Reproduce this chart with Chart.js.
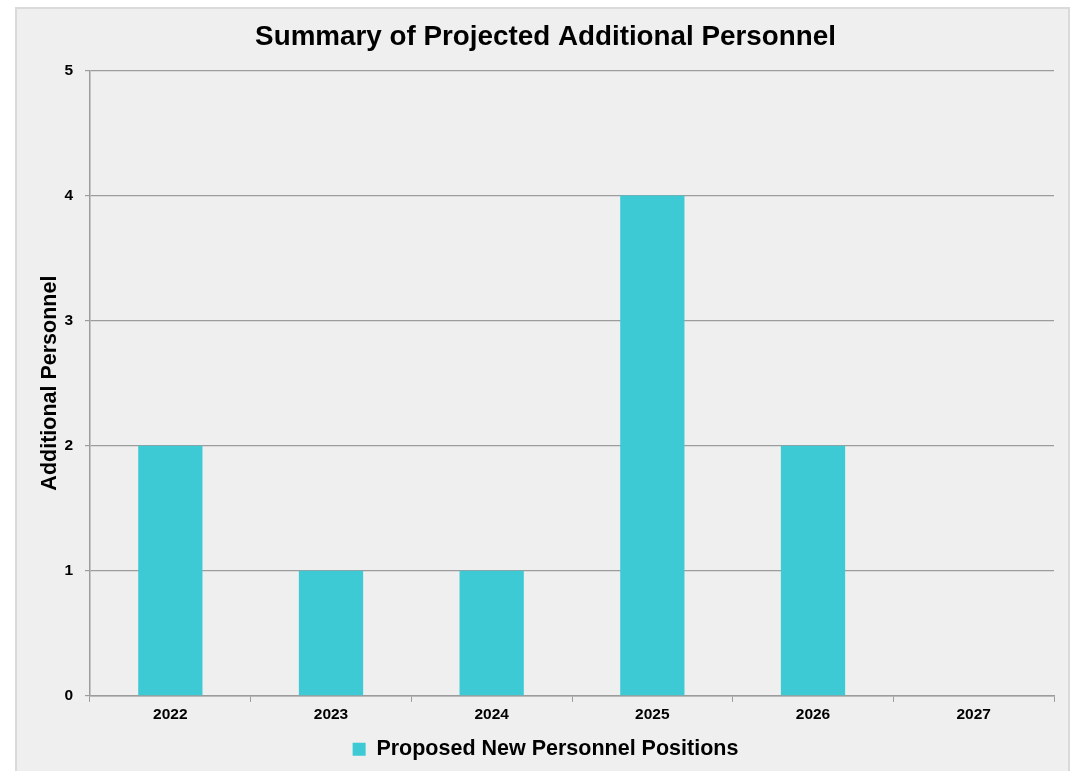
<!DOCTYPE html>
<html>
<head>
<meta charset="utf-8">
<script src="https://cdn.jsdelivr.net/npm/chart.js@4"></script>
<style>
  html, body { margin: 0; padding: 0; background: #ffffff; overflow: hidden; }
  #panel {
    position: absolute; left: 15px; top: 7px;
    width: 1051px; height: 775px;
    background: #efefef; border: 2px solid #dadada;
  }
  #panel canvas { display: block; }
</style>
</head>
<body>
<div id="panel"><canvas id="personnelChart" width="1051" height="775"></canvas></div>
<script>
// anos projetados e vagas novas por ano
const years = ['2022', '2023', '2024', '2025', '2026', '2027'];
const newPositions = [2, 1, 1, 4, 2, 0];
const yTicks = [0, 1, 2, 3, 4, 5];

const axisGray = '#9c9c9c';
const barColor = '#3dcad4';
const font = 'Arial, "Liberation Sans", sans-serif';

new Chart(document.getElementById('personnelChart'), {
  type: 'bar',
  data: {
    labels: years,
    datasets: [{
      label: 'Proposed New Personnel Positions',
      data: newPositions,
      backgroundColor: barColor,
      borderWidth: 0,
      barPercentage: 0.4,
      categoryPercentage: 1,
    }],
  },
  options: {
    responsive: false,
    animation: false,
    layout: { padding: { left: 20, right: 14, top: 8, bottom: 14 } },
    plugins: {
      title: {
        display: true,
        text: 'Summary of Projected Additional Personnel',
        color: '#000',
        font: { family: font, size: 27.8, weight: 'bold' },
        padding: { top: 4, bottom: 16 },
      },
      legend: {
        position: 'bottom',
        labels: {
          color: '#000',
          font: { family: font, size: 21.5, weight: 'bold' },
          boxWidth: 13,
          boxHeight: 13,
          padding: 10,
        },
      },
      tooltip: { enabled: false },
    },
    scales: {
      x: {
        grid: {
          offset: true,
          drawOnChartArea: false,
          color: axisGray,
          tickLength: 6,
        },
        border: { color: axisGray, width: 1.5 },
        ticks: {
          color: '#000',
          font: { family: font, size: 15.5, weight: 'bold' },
          padding: 4,
        },
      },
      y: {
        min: 0,
        max: 5,
        afterBuildTicks: s => { s.ticks = yTicks.map(v => ({ value: v })); },
        afterFit: s => { s.width = 53; },
        grid: { color: axisGray, lineWidth: 1.2, tickLength: 5 },
        border: { color: axisGray, width: 1.5 },
        ticks: {
          color: '#000',
          font: { family: font, size: 15.5, weight: 'bold' },
          padding: 12,
        },
        title: {
          display: true,
          text: 'Additional Personnel',
          color: '#000',
          font: { family: font, size: 21.5, weight: 'bold' },
          padding: { top: 0, bottom: 4 },
        },
      },
    },
  },
});
</script>
</body>
</html>
